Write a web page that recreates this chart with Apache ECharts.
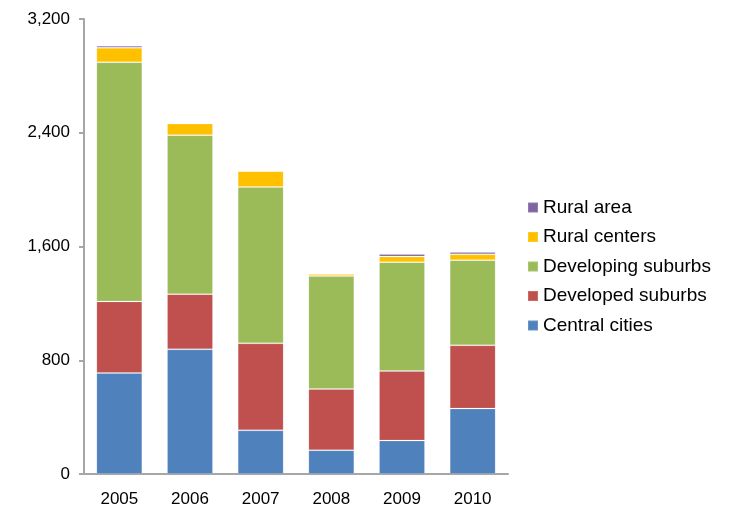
<!DOCTYPE html>
<html>
<head>
<meta charset="utf-8">
<script src="https://cdn.jsdelivr.net/npm/echarts@6/dist/echarts.min.js"></script>
<style>
  html, body { margin: 0; padding: 0; background: #fff; }
  #chart { width: 735px; height: 512px; }
</style>
</head>
<body>
<div id="chart"></div>
<script>
// years on the x axis
const years = ["2005", "2006", "2007", "2008", "2009", "2010"];

// stacked values, bottom to top
const centralCities = [710, 877, 307, 167, 235, 460];
const developedSuburbs = [504, 388, 612, 431, 489, 445];
const developingSuburbs = [1682, 1118, 1099, 794, 766, 599];
const ruralCenters = [102, 82, 112, 14, 40, 41];
const ruralArea = [14, 7, 5, 5, 17, 16];

const chart = echarts.init(document.getElementById("chart"));

function bar(name, data, color) {
  return {
    name: name,
    type: "bar",
    stack: "total",
    barWidth: "65%",
    itemStyle: {
      color: color,
      borderColor: "rgba(255,255,255,0.15)",
      borderWidth: 1
    },
    data: data
  };
}

chart.setOption({
  backgroundColor: "#ffffff",
  animation: false,
  textStyle: { fontFamily: "Liberation Sans, Arial, sans-serif" },
  grid: {
    left: 84,
    right: 227,
    top: 19,
    bottom: 38
  },
  legend: {
    orient: "vertical",
    left: 527,
    top: 198,
    padding: 0,
    itemWidth: 10,
    itemHeight: 10,
    itemGap: 10.5,
    icon: "rect",
    textStyle: { fontSize: 19, color: "#000" },
    data: ["Rural area", "Rural centers", "Developing suburbs", "Developed suburbs", "Central cities"]
  },
  xAxis: {
    type: "category",
    data: years,
    axisLine: { lineStyle: { color: "#a6a6a6", width: 2 } },
    axisTick: { show: false },
    axisLabel: { fontSize: 17, color: "#000", margin: 17 }
  },
  yAxis: {
    type: "value",
    min: 0,
    max: 3200,
    interval: 800,
    axisLine: { show: true, lineStyle: { color: "#a6a6a6", width: 2 } },
    axisTick: { show: true, length: 5, lineStyle: { color: "#a6a6a6", width: 2 } },
    splitLine: { show: false },
    axisLabel: {
      fontSize: 17,
      color: "#000",
      margin: 14,
      formatter: function (v) {
        return v.toLocaleString("en-US");
      }
    }
  },
  series: [
    bar("Central cities", centralCities, "#4F81BD"),
    bar("Developed suburbs", developedSuburbs, "#C0504D"),
    bar("Developing suburbs", developingSuburbs, "#9BBB59"),
    bar("Rural centers", ruralCenters, "#FFC000"),
    bar("Rural area", ruralArea, "#8064A2")
  ]
});
</script>
</body>
</html>
